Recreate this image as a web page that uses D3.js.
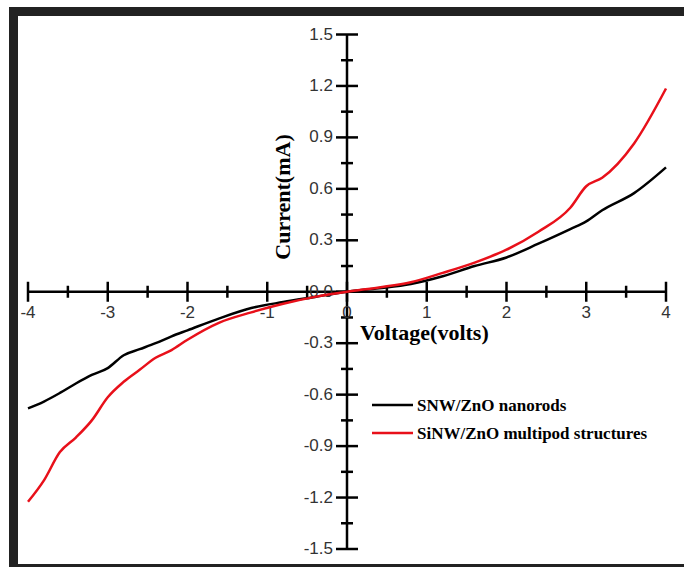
<!DOCTYPE html>
<html>
<head>
<meta charset="utf-8">
<script src="https://cdn.jsdelivr.net/npm/d3@7"></script>
<style>
  body { margin: 0; background: #fff; }
  svg { display: block; }
</style>
</head>
<body>
<svg id="chart" width="684" height="567"></svg>
<script>
// voltage points (volts)
const voltage = [-4, -3.8, -3.6, -3.4, -3.2, -3, -2.8, -2.6, -2.4, -2.2, -2, -1.6, -1.2, -0.8, -0.4, 0,
                 0.4, 0.8, 1.2, 1.6, 2, 2.4, 2.8, 3, 3.2, 3.6, 4];
// current (mA) for each sample
const nanorods = [-0.68, -0.64, -0.59, -0.535, -0.485, -0.445, -0.37, -0.335, -0.30, -0.26, -0.225, -0.155, -0.095, -0.06, -0.03, 0,
                  0.02, 0.045, 0.09, 0.15, 0.20, 0.28, 0.365, 0.41, 0.475, 0.575, 0.725];
const multipod = [-1.225, -1.10, -0.935, -0.85, -0.75, -0.615, -0.525, -0.455, -0.385, -0.34, -0.28, -0.18, -0.12, -0.07, -0.03, 0,
                  0.025, 0.055, 0.11, 0.17, 0.245, 0.35, 0.49, 0.615, 0.665, 0.865, 1.185];

const xMajor = [-4, -3, -2, -1, 0, 1, 2, 3, 4];
const xMinor = [-3.5, -2.5, -1.5, -0.5, 0.5, 1.5, 2.5, 3.5];
const yMajor = [-1.5, -1.2, -0.9, -0.6, -0.3, 0, 0.3, 0.6, 0.9, 1.2, 1.5];
const yMinor = [-1.35, -1.05, -0.75, -0.45, -0.15, 0.15, 0.45, 0.75, 1.05, 1.35];

const seriesNames = ["SNW/ZnO nanorods", "SiNW/ZnO multipod structures"];
const seriesColors = ["#000000", "#e8101a"];

const svg = d3.select('#chart');

// dark frame around the picture
svg.append('rect').attr('x', 9).attr('y', 7).attr('width', 675).attr('height', 9).attr('fill', '#222');
svg.append('rect').attr('x', 9).attr('y', 7).attr('width', 9).attr('height', 560).attr('fill', '#222');
svg.append('rect').attr('x', 9).attr('y', 564).attr('width', 675).attr('height', 3).attr('fill', '#222');

const x = d3.scaleLinear().domain([-4, 4]).range([28, 666]);
const y = d3.scaleLinear().domain([-1.5, 1.5]).range([549, 34.5]);

const axisG = svg.append('g');

// axis lines
axisG.append('line')
    .attr('x1', x(-4)).attr('x2', x(4))
    .attr('y1', y(0)).attr('y2', y(0))
    .attr('stroke', '#000').attr('stroke-width', 2.5);
axisG.append('line')
    .attr('x1', x(0)).attr('x2', x(0))
    .attr('y1', y(-1.5)).attr('y2', y(1.5))
    .attr('stroke', '#000').attr('stroke-width', 2.5);

// ticks crossing the axes
axisG.selectAll('.xmaj').data(xMajor).enter().append('line')
    .attr('x1', d => x(d)).attr('x2', d => x(d))
    .attr('y1', y(0) - 10).attr('y2', y(0) + 10)
    .attr('stroke', '#000').attr('stroke-width', 2.5);
axisG.selectAll('.xmin').data(xMinor).enter().append('line')
    .attr('x1', d => x(d)).attr('x2', d => x(d))
    .attr('y1', y(0) - 6).attr('y2', y(0) + 6)
    .attr('stroke', '#000').attr('stroke-width', 2.5);
axisG.selectAll('.ymaj').data(yMajor).enter().append('line')
    .attr('x1', x(0) - 11).attr('x2', x(0) + 11)
    .attr('y1', d => y(d)).attr('y2', d => y(d))
    .attr('stroke', '#000').attr('stroke-width', 2.5);
axisG.selectAll('.ymin').data(yMinor).enter().append('line')
    .attr('x1', x(0) - 6).attr('x2', x(0) + 6)
    .attr('y1', d => y(d)).attr('y2', d => y(d))
    .attr('stroke', '#000').attr('stroke-width', 2.5);

// tick labels (plain hyphen for negatives, as in the original)
const fmt = d => d.toFixed(1);
axisG.selectAll('.xlab').data(xMajor).enter().append('text')
    .attr('x', d => x(d)).attr('y', y(0) + 26)
    .attr('text-anchor', 'middle')
    .attr('font-family', 'Liberation Sans, Arial, sans-serif')
    .attr('font-size', 17).attr('fill', '#333')
    .text(d => String(d));
axisG.selectAll('.ylab').data(yMajor).enter().append('text')
    .attr('x', x(0) - 14).attr('y', d => y(d) + 5)
    .attr('text-anchor', 'end')
    .attr('font-family', 'Liberation Sans, Arial, sans-serif')
    .attr('font-size', 17).attr('fill', '#333')
    .text(fmt);

// axis titles
svg.append('text')
    .attr('x', 360).attr('y', 340)
    .attr('font-family', 'Liberation Serif, Times New Roman, serif')
    .attr('font-weight', 'bold').attr('font-size', 22)
    .text('Voltage(volts)');
svg.append('text')
    .attr('transform', 'translate(290,197) rotate(-90)')
    .attr('text-anchor', 'middle')
    .attr('font-family', 'Liberation Serif, Times New Roman, serif')
    .attr('font-weight', 'bold').attr('font-size', 22)
    .text('Current(mA)');

// curves
const line = d3.line()
    .x((d, i) => x(voltage[i]))
    .y(d => y(d))
    .curve(d3.curveMonotoneX);

[nanorods, multipod].forEach((s, i) => {
    svg.append('path')
        .attr('d', line(s))
        .attr('fill', 'none')
        .attr('stroke', seriesColors[i])
        .attr('stroke-width', 2.5);
});

// legend
const legend = svg.append('g');
seriesNames.forEach((name, i) => {
    const ly = 405 + i * 28;
    legend.append('line')
        .attr('x1', 372).attr('x2', 413)
        .attr('y1', ly).attr('y2', ly)
        .attr('stroke', seriesColors[i]).attr('stroke-width', 2.5);
    legend.append('text')
        .attr('x', 417).attr('y', ly + 6)
        .attr('font-family', 'Liberation Serif, Times New Roman, serif')
        .attr('font-weight', 'bold').attr('font-size', 17)
        .text(name);
});
</script>
</body>
</html>
